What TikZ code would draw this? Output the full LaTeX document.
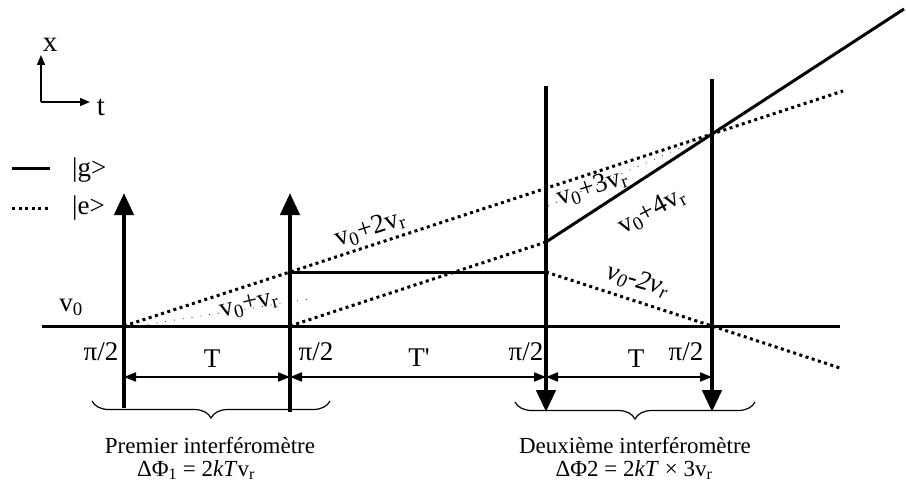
\documentclass[tikz,border=0pt]{standalone}
\usepackage{fontspec}
\setmainfont{Liberation Serif}
\usetikzlibrary{arrows.meta,decorations.pathreplacing}
\tikzset{
  pulse/.style={line width=4.5pt, -{Triangle[length=22pt,width=19pt]}},
  ground/.style={line width=3pt},
  excited/.style={line width=3pt, dash pattern=on 3pt off 3.5pt},
  faint/.style={line width=0.9pt, dash pattern=on 0.9pt off 8pt, black!75},
  span/.style={line width=2pt, {Triangle[length=12pt,width=9pt]}-{Triangle[length=12pt,width=9pt]}},
  axis/.style={line width=1.5pt, -{Triangle[length=10pt,width=8pt]}},
  lbl/.style={font=\fontsize{27}{29}\selectfont, inner sep=0pt},
  vel/.style={font=\fontsize{27}{29}\selectfont, inner sep=1pt},
  captxt/.style={font=\fontsize{23}{25}\selectfont, align=center, inner sep=0pt},
  brace/.style={decorate, decoration={brace, mirror, amplitude=17pt}, line width=1.2pt}}

\begin{document}
\begin{tikzpicture}[x=1pt, y=-1pt]
  \useasboundingbox (0,0) rectangle (906,487);
  % axes and legend
  \coordinate (o) at (41,102);
  \coordinate (ox) at (41,55);
  \coordinate (ot) at (90,102);
  \draw[axis] (o) -- (ox);
  \draw[axis] (o) -- (ot);
  \node[lbl, font=\fontsize{29}{31}\selectfont] (xl) at (50,45) {x};
  \node[lbl, font=\fontsize{29}{31}\selectfont] (tl) at (101,107) {t};
  \coordinate (g1) at (12,168); \coordinate (g2) at (50,168);
  \coordinate (e1) at (12,208); \coordinate (e2) at (50,208);
  \draw[ground] (g1) -- (g2);
  \draw[excited] (e1) -- (e2);
  \node[lbl, anchor=west] (gl) at (72,170) {|g>};
  \node[lbl, anchor=west] (el) at (72,208) {|e>};

  % baseline and pulse positions
  \coordinate (b0) at (42,326);
  \coordinate (b5) at (840,326);
  \coordinate (p1) at (124,326);
  \coordinate (p2) at (290,326);
  \coordinate (p3) at (546,326);
  \coordinate (p4) at (712,326);
  \draw[ground] (b0) -- (b5);
  \node[lbl] (v0) at (71,307) {v\textsubscript{0}};

  % trajectories
  \coordinate (up2) at (290,272);
  \coordinate (mid3) at (546,272);
  \coordinate (low3) at (546,242);
  \coordinate (cross4) at (712,134);
  \coordinate (upend) at (843,91);
  \coordinate (solend) at (904,9);
  \coordinate (dnend) at (840,368);
  \draw[excited] (p1) -- (up2) -- (cross4) -- (upend);
  \draw[ground] (up2) -- (mid3);
  \draw[excited] (p2) -- (low3);
  \draw[ground] (low3) -- (cross4) -- (solend);
  \draw[excited] (mid3) -- (p4) -- (dnend);
  \coordinate (f1) at (130,327); \coordinate (f2) at (310,299);
  \coordinate (f3) at (548,206);
  \draw[faint] (f1) -- (f2);
  \draw[faint] (f3) -- (cross4);
  \node[vel, rotate=18] (l2) at (370,229) {v\textsubscript{0}+2v\textsubscript{r}};
  \node[vel, rotate=14] (l1) at (249,305) {v\textsubscript{0}+v\textsubscript{r}};
  \node[vel, rotate=18] (l3) at (592,188) {v\textsubscript{0}+3v\textsubscript{r}};
  \node[vel, rotate=28] (l4) at (652,211) {v\textsubscript{0}+4v\textsubscript{r}};
  \node[vel, rotate=-16, font=\fontsize{27}{29}\selectfont\itshape] (l5) at (638,281) {v\textsubscript{0}-2v\textsubscript{r}};

  % pulses
  \coordinate (q1) at (124,408); \coordinate (t1) at (124,193);
  \coordinate (q2) at (290,412); \coordinate (t2) at (290,193);
  \coordinate (q3) at (546,86);  \coordinate (t3) at (546,412);
  \coordinate (q4) at (712,79);  \coordinate (t4) at (712,412);
  \draw[pulse] (q1) -- (t1);
  \draw[pulse] (q2) -- (t2);
  \draw[pulse] (q3) -- (t3);
  \draw[pulse] (q4) -- (t4);
  \node[lbl] (pi1) at (101,352) {π/2};
  \node[lbl] (pi2) at (316,352) {π/2};
  \node[lbl] (pi3) at (526,352) {π/2};
  \node[lbl] (pi4) at (686,352) {π/2};

  % time spans
  \coordinate (d1) at (124,377); \coordinate (d2) at (290,377);
  \coordinate (d3) at (546,377); \coordinate (d4) at (712,377);
  \draw[span] (d1) -- (d2);
  \draw[span] (d2) -- (d3);
  \draw[span] (d3) -- (d4);
  \node[lbl] (T1) at (212,359) {T};
  \node[lbl] (T2) at (419,358) {T\textquotesingle};
  \node[lbl] (T3) at (636,359) {T};

  % interferometers
  \coordinate (a1) at (92,401); \coordinate (a2) at (330,401);
  \coordinate (a3) at (515,402); \coordinate (a4) at (755,402);
  \draw[brace] (a1) -- (a2);
  \draw[brace] (a3) -- (a4);
  \node[captxt] (int1) at (210,446) {Premier interféromètre};
  \node[captxt] (phi1) at (196,470) {ΔΦ\textsubscript{1} = 2\textit{kT}v\textsubscript{r}};
  \node[captxt] (int2) at (635,446) {Deuxième interféromètre};
  \node[captxt] (phi2) at (634,470) {ΔΦ2 = 2\textit{kT} × 3v\textsubscript{r}};
\end{tikzpicture}
\end{document}
